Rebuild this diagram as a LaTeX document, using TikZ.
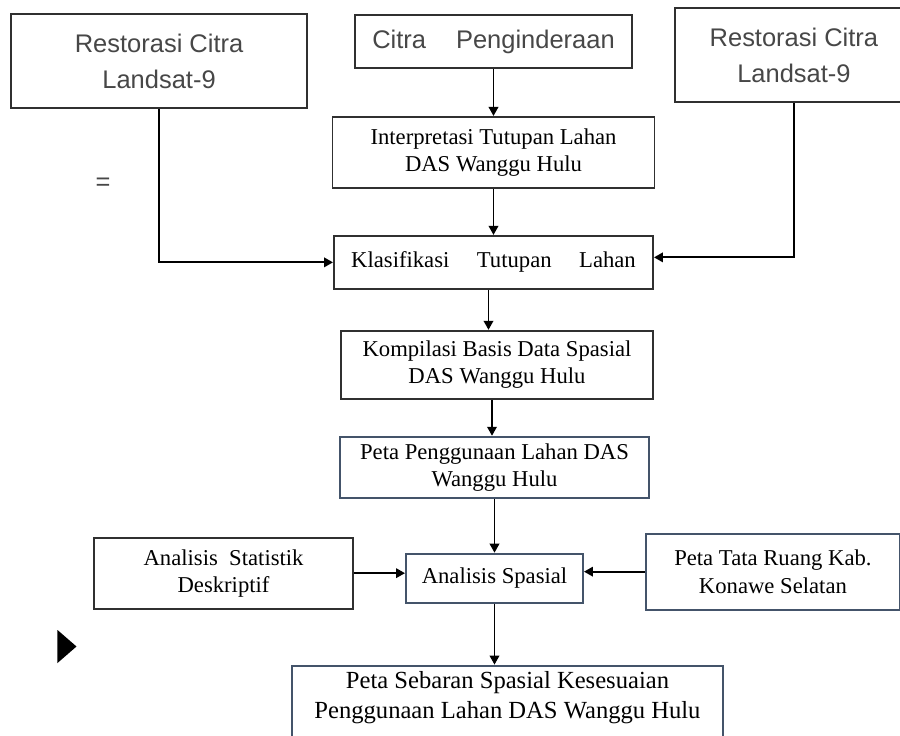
\documentclass[tikz,border=0pt]{standalone}
\usepackage{fontspec}
\setmainfont{Liberation Serif}
\newfontfamily\restfont{Liberation Sans}
\usepackage{tikz}
\usetikzlibrary{positioning, arrows.meta}

\definecolor{slateline}{HTML}{44546A}
\definecolor{boxline}{HTML}{303030}

\begin{document}
\begin{tikzpicture}
  [basicbox/.style={draw=boxline,line width=1.1pt,rectangle,inner sep=0pt,align=center,
     font=\fontsize{12.9}{15.5}\selectfont},
   mapbox/.style={basicbox,draw=slateline},
   sourcebox/.style={basicbox,text=black!72,font=\restfont\fontsize{14.5}{20.5}\selectfont},
   flow/.style={line width=1.1pt,-{Triangle[length=0.18cm,width=0.19cm]}}]
  \useasboundingbox (0,0) rectangle (18,-14.72);
  \node (citra) at (9.87,-0.83) [sourcebox,minimum width=5.54cm,minimum height=1.06cm]
    {Citra\hspace{0.6cm}Penginderaan};
  \node (restleft) [sourcebox,minimum width=5.92cm,minimum height=1.88cm,
    left=0.92 of citra,yshift=-0.39cm] {Restorasi Citra\\Landsat-9};
  \node (restright) [sourcebox,minimum width=4.76cm,minimum height=1.88cm,
    right=0.82 of citra,yshift=-0.27cm] {Restorasi Citra\\Landsat-9};
  \node (interp) [basicbox,minimum width=6.44cm,minimum height=1.42cm,below=0.94 of citra]
    {Interpretasi Tutupan Lahan\\DAS Wanggu Hulu};
  \node (klas) [basicbox,minimum width=6.38cm,minimum height=1.06cm,below=0.92 of interp]
    {Klasifikasi\hspace{0.55cm}Tutupan\hspace{0.55cm}Lahan};
  \node (komp) [basicbox,minimum width=6.24cm,minimum height=1.36cm,below=0.80 of klas,xshift=0.07cm]
    {Kompilasi Basis Data Spasial\\DAS Wanggu Hulu};
  \node (petaguna) [mapbox,minimum width=6.18cm,minimum height=1.22cm,below=0.72 of komp,xshift=-0.05cm]
    {Peta Penggunaan Lahan DAS\\Wanggu Hulu};
  \node (spasial) [mapbox,minimum width=3.54cm,minimum height=0.98cm,below=1.08 of petaguna]
    {Analisis Spasial};
  \node (statistik) [basicbox,minimum width=5.18cm,minimum height=1.42cm,
    left=1.02 of spasial,yshift=0.1cm] {Analisis\ \ Statistik\\Deskriptif};
  \node (tataruang) [mapbox,minimum width=5.08cm,minimum height=1.52cm,
    right=1.22 of spasial,yshift=0.13cm] {Peta Tata Ruang Kab.\\Konawe Selatan};
  \node (sebaran) [mapbox,minimum width=8.62cm,font=\fontsize{14}{17}\selectfont,
    text depth=1.05cm,inner ysep=0.12cm,below=1.22 of spasial,xshift=0.26cm]
    {Peta Sebaran Spasial Kesesuaian\\Penggunaan Lahan DAS Wanggu Hulu};
  \node (equal) at (2.06,-3.68) [text=black!72,font=\restfont\fontsize{14.5}{17}\selectfont] {=};
  \fill (1.15,-12.6) -- (1.53,-12.93) -- (1.15,-13.26) -- cycle;
  % main column
  \draw [flow] (citra.south) -- (citra.south |- interp.north);
  \draw [flow] (interp.south) -- (interp.south |- klas.north);
  \draw [flow] (restleft.south) |- (klas.west);
  \draw [flow] (restright.south) |- ([yshift=0.1cm]klas.east);
  \draw [flow] ([xshift=-0.1cm]klas.south) -- ([xshift=-0.1cm]klas.south |- komp.north);
  \draw [flow] ([xshift=-0.1cm]komp.south) -- ([xshift=-0.1cm]komp.south |- petaguna.north);
  \draw [flow] (petaguna.south) -- (petaguna.south |- spasial.north);
  \draw [flow] (statistik.east) -- (statistik.east -| spasial.west);
  \draw [flow] (tataruang.west) -- (tataruang.west -| spasial.east);
  \draw [flow] (spasial.south) -- (spasial.south |- sebaran.north);
\end{tikzpicture}
\end{document}
